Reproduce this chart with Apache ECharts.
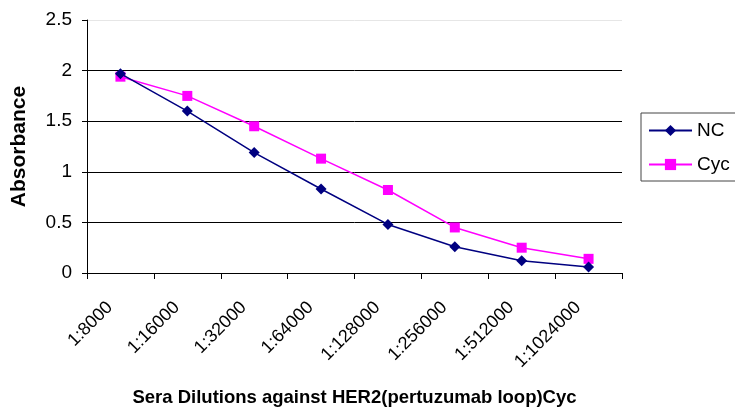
<!DOCTYPE html>
<html>
<head>
<meta charset="utf-8">
<script src="https://cdn.jsdelivr.net/npm/echarts@6/dist/echarts.min.js"></script>
<style>
  html, body { margin: 0; padding: 0; background: #fff; }
  #chart { width: 735px; height: 412px; }
</style>
</head>
<body>
<div id="chart"></div>
<script>
// Sera dilution series
const dilutions = ['1:8000', '1:16000', '1:32000', '1:64000', '1:128000', '1:256000', '1:512000', '1:1024000'];
// Absorbance readings
const ncValues  = [1.97, 1.60, 1.19, 0.83, 0.48, 0.26, 0.12, 0.06];
const cycValues = [1.94, 1.75, 1.45, 1.13, 0.82, 0.45, 0.25, 0.14];
const yTicks = { min: 0, max: 2.5, interval: 0.5 };

const font = 'Liberation Sans, Arial, sans-serif';
const chart = echarts.init(document.getElementById('chart'), null, { renderer: 'canvas' });

chart.setOption({
  animation: false,
  backgroundColor: '#fff',
  grid: { left: 87, right: 113, top: 20, bottom: 139, containLabel: false },
  legend: {
    orient: 'vertical',
    left: 641,
    top: 113,
    padding: [8, 16, 7, 7],
    itemGap: 15,
    itemWidth: 43,
    itemHeight: 14,
    borderColor: '#444',
    borderWidth: 1,
    textStyle: { fontFamily: font, fontSize: 19, color: '#000' },
    data: ['NC', 'Cyc']
  },
  xAxis: {
    type: 'category',
    data: dilutions,
    boundaryGap: true,
    name: 'Sera Dilutions against HER2(pertuzumab loop)Cyc',
    nameLocation: 'middle',
    nameGap: 115,
    nameTextStyle: { fontFamily: font, fontSize: 18.5, fontWeight: 'bold', color: '#000' },
    axisLine: { lineStyle: { color: '#000', width: 1 } },
    axisTick: { show: true, alignWithLabel: false, length: 6, lineStyle: { color: '#000' } },
    axisLabel: { rotate: 45, margin: 21, padding: [0, 15, 0, 0], fontFamily: font, fontSize: 18, color: '#000', interval: 0 },
    splitLine: { show: false }
  },
  yAxis: {
    type: 'value',
    min: yTicks.min,
    max: yTicks.max,
    interval: yTicks.interval,
    name: 'Absorbance',
    nameLocation: 'middle',
    nameGap: 57,
    nameRotate: 90,
    nameTextStyle: { fontFamily: font, fontSize: 21, fontWeight: 'bold', color: '#000' },
    axisLine: { show: true, lineStyle: { color: '#000', width: 1 } },
    axisTick: { show: true, length: 5, lineStyle: { color: '#000' } },
    axisLabel: { margin: 15, fontFamily: font, fontSize: 19, color: '#000' },
    splitLine: { show: true, lineStyle: { color: ['#000', '#000', '#000', '#000', '#000', '#e6e6e6'], width: 1 } }
  },
  series: [
    {
      name: 'NC',
      type: 'line',
      data: ncValues,
      symbol: 'diamond',
      symbolSize: 11,
      itemStyle: { color: '#000080' },
      lineStyle: { color: '#000080', width: 1.5 },
      z: 3
    },
    {
      name: 'Cyc',
      type: 'line',
      data: cycValues,
      symbol: 'rect',
      symbolSize: 10,
      itemStyle: { color: '#ff00ff' },
      lineStyle: { color: '#ff00ff', width: 1.5 },
      z: 2
    }
  ]
});
</script>
</body>
</html>
